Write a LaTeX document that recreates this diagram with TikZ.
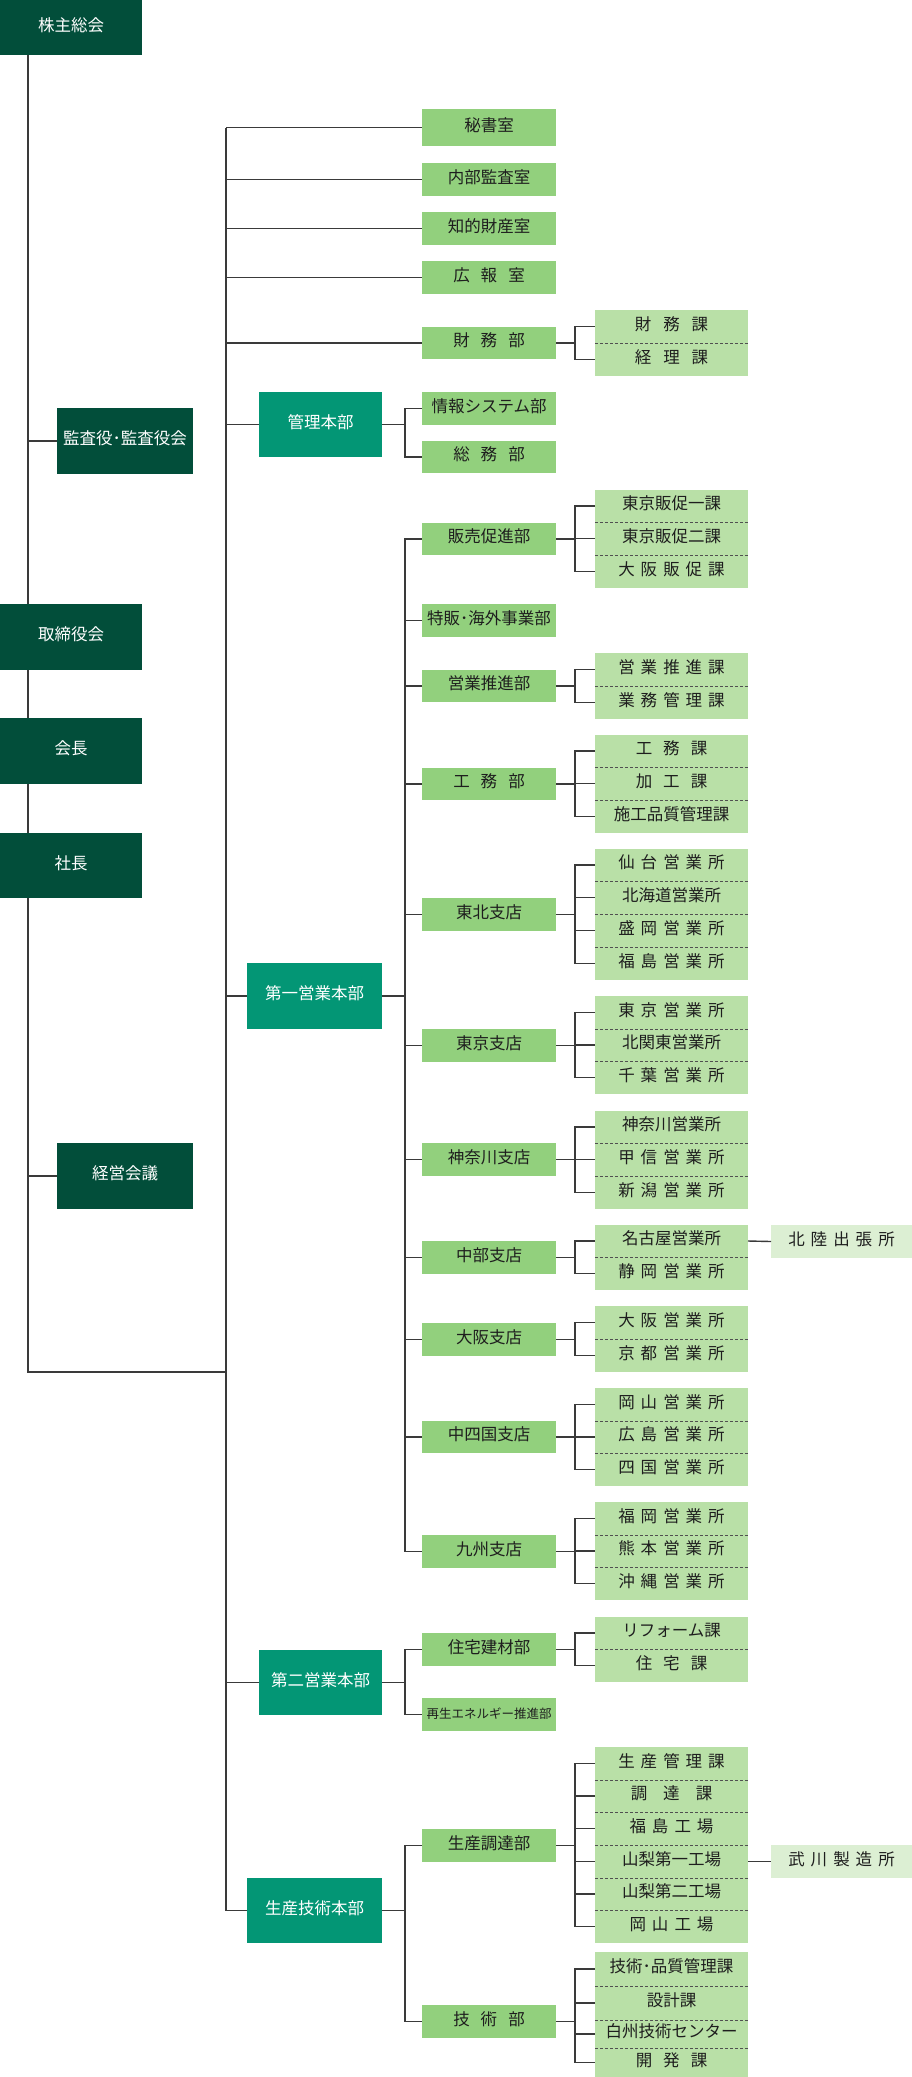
\documentclass[tikz,border=0pt]{standalone}
\usepackage{fontspec}
\setmainfont{Noto Sans CJK JP}
\definecolor{cDark}{RGB}{2,78,58}
\definecolor{cTeal}{RGB}{3,150,117}
\definecolor{cDept}{RGB}{146,208,125}
\definecolor{cSub}{RGB}{185,224,167}
\definecolor{cFar}{RGB}{220,239,211}
\definecolor{cLine}{RGB}{58,58,58}
\definecolor{cDash}{RGB}{80,80,80}
\definecolor{cText}{RGB}{30,30,30}
\newcommand\jgp[1]{\hspace*{#1pt}}
\newcommand\thr[3]{#1\jgp{11}#2\jgp{11}#3}
\newcommand\fou[4]{#1\jgp{6}#2\jgp{6}#3\jgp{6}#4}
\newcommand\fiv[5]{#1\jgp{6}#2\jgp{6}#3\jgp{6}#4\jgp{6}#5}
\newcommand\bx[7]{\node[#1,minimum width={(#5-#3)*1pt},minimum height={(#6-#4)*1pt}] (#2) at ({(#3+#5)/2},{(#4+#6)/2}) {#7};}
\tikzset{
 base/.style={inner sep=0pt, outer sep=0pt, text height=0.82em, text depth=0.08em, font=\fontsize{16.5}{18}\selectfont},
 dk/.style={base, fill=cDark, text=white},
 tl/.style={base, fill=cTeal, text=white},
 dp/.style={base, fill=cDept, text=cText},
 sb/.style={base, fill=cSub, text=cText},
 fr/.style={base, fill=cFar, text=cText},
 ln/.style={draw=cLine, line width=1.4pt},
 dv/.style={draw=cDash, line width=0.9pt, dash pattern=on 3pt off 2pt},
}
\begin{document}
\begin{tikzpicture}[x=1pt,y=-1pt]
\fill[white] (0,0) rectangle (912,2077);
\useasboundingbox (0,0) rectangle (912,2077);
\coordinate (xl) at (28,0);
\coordinate (xm) at (226,0);
\coordinate (xd) at (405,0);
\coordinate (xs) at (575,0);
\coordinate (bend) at (28,1372);
% left column
\bx{dk}{kabu}{0}{0}{142}{55}{株主総会}
\bx{dk}{kansa}{57}{408}{193}{474}{監査役･監査役会}
\bx{dk}{tori}{0}{604}{142}{670}{取締役会}
\bx{dk}{kaicho}{0}{718}{142}{784}{会長}
\bx{dk}{shacho}{0}{833}{142}{898}{社長}
\bx{dk}{keiei}{57}{1143}{193}{1209}{経営会議}
% headquarters
\bx{tl}{kanri}{259}{392}{382}{457}{管理本部}
\bx{tl}{dai1}{247}{963}{382}{1029}{第一営業本部}
\bx{tl}{dai2}{259}{1650}{382}{1715}{第二営業本部}
\bx{tl}{seigi}{247}{1878}{382}{1943}{生産技術本部}
% departments
\bx{dp}{hisho}{422}{109}{556}{146}{秘書室}
\bx{dp}{naibu}{422}{163}{556}{196}{内部監査室}
\bx{dp}{chiteki}{422}{212}{556}{245}{知的財産室}
\bx{dp}{koho}{422}{261}{556}{294}{\thr{広}{報}{室}}
\bx{dp}{zaimu}{422}{327}{556}{359}{\thr{財}{務}{部}}
\bx{dp}{joho}{422}{392}{556}{425}{情報システム部}
\bx{dp}{somu}{422}{441}{556}{473}{\thr{総}{務}{部}}
\bx{dp}{hanbai}{422}{523}{556}{555}{販売促進部}
\bx{dp}{tokuhan}{422}{604}{556}{637}{特販･海外事業部}
\bx{dp}{eigyo}{422}{670}{556}{702}{営業推進部}
\bx{dp}{komu}{422}{768}{556}{800}{\thr{工}{務}{部}}
\bx{dp}{tohoku}{422}{898}{556}{931}{東北支店}
\bx{dp}{tokyo}{422}{1029}{556}{1062}{東京支店}
\bx{dp}{kanagawa}{422}{1143}{556}{1176}{神奈川支店}
\bx{dp}{chubu}{422}{1241}{556}{1274}{中部支店}
\bx{dp}{osaka}{422}{1323}{556}{1356}{大阪支店}
\bx{dp}{chushi}{422}{1421}{556}{1453}{中四国支店}
\bx{dp}{kyushu}{422}{1535}{556}{1568}{九州支店}
\bx{dp}{jutaku}{422}{1633}{556}{1666}{住宅建材部}
\bx{dp,font=\fontsize{12.5}{14}\selectfont}{saisei}{422}{1698}{556}{1731}{再生エネルギー推進部}
\bx{dp}{seicho}{422}{1829}{556}{1862}{生産調達部}
\bx{dp}{gijutsu}{422}{2005}{556}{2038}{\thr{技}{術}{部}}
% sections
\bx{sb}{zr1}{595}{310}{748}{343}{財\jgp{12}務\jgp{12}課}
\bx{sb}{zr2}{595}{343}{748}{376}{経\jgp{12}理\jgp{12}課}
\bx{sb}{hr1}{595}{490}{748}{522}{東京販促一課}
\bx{sb}{hr2}{595}{522}{748}{555}{東京販促二課}
\bx{sb}{hr3}{595}{555}{748}{588}{\fiv{大}{阪}{販}{促}{課}}
\bx{sb}{er1}{595}{653}{748}{686}{\fiv{営}{業}{推}{進}{課}}
\bx{sb}{er2}{595}{686}{748}{719}{\fiv{業}{務}{管}{理}{課}}
\bx{sb}{kr1}{595}{735}{748}{767}{\thr{工}{務}{課}}
\bx{sb}{kr2}{595}{767}{748}{800}{\thr{加}{工}{課}}
\bx{sb}{kr3}{595}{800}{748}{833}{施工品質管理課}
\bx{sb}{tr1}{595}{849}{748}{881}{\fiv{仙}{台}{営}{業}{所}}
\bx{sb}{tr2}{595}{881}{748}{914}{北海道営業所}
\bx{sb}{tr3}{595}{914}{748}{947}{\fiv{盛}{岡}{営}{業}{所}}
\bx{sb}{tr4}{595}{947}{748}{980}{\fiv{福}{島}{営}{業}{所}}
\bx{sb}{ts1}{595}{996}{748}{1029}{\fiv{東}{京}{営}{業}{所}}
\bx{sb}{ts2}{595}{1029}{748}{1061}{北関東営業所}
\bx{sb}{ts3}{595}{1061}{748}{1094}{\fiv{千}{葉}{営}{業}{所}}
\bx{sb}{kg1}{595}{1111}{748}{1143}{神奈川営業所}
\bx{sb}{kg2}{595}{1143}{748}{1176}{\fiv{甲}{信}{営}{業}{所}}
\bx{sb}{kg3}{595}{1176}{748}{1209}{\fiv{新}{潟}{営}{業}{所}}
\bx{sb}{cb1}{595}{1225}{748}{1257}{名古屋営業所}
\bx{sb}{cb2}{595}{1257}{748}{1290}{\fiv{静}{岡}{営}{業}{所}}
\bx{sb}{os1}{595}{1306}{748}{1339}{\fiv{大}{阪}{営}{業}{所}}
\bx{sb}{os2}{595}{1339}{748}{1372}{\fiv{京}{都}{営}{業}{所}}
\bx{sb}{cs1}{595}{1388}{748}{1421}{\fiv{岡}{山}{営}{業}{所}}
\bx{sb}{cs2}{595}{1421}{748}{1453}{\fiv{広}{島}{営}{業}{所}}
\bx{sb}{cs3}{595}{1453}{748}{1486}{\fiv{四}{国}{営}{業}{所}}
\bx{sb}{ks1}{595}{1502}{748}{1535}{\fiv{福}{岡}{営}{業}{所}}
\bx{sb}{ks2}{595}{1535}{748}{1567}{\fiv{熊}{本}{営}{業}{所}}
\bx{sb}{ks3}{595}{1567}{748}{1600}{\fiv{沖}{縄}{営}{業}{所}}
\bx{sb}{jr1}{595}{1617}{748}{1649}{リフォーム課}
\bx{sb}{jr2}{595}{1649}{748}{1682}{\thr{住}{宅}{課}}
\bx{sb}{sc1}{595}{1747}{748}{1780}{\fiv{生}{産}{管}{理}{課}}
\bx{sb}{sc2}{595}{1780}{748}{1812}{調\jgp{16}達\jgp{16}課}
\bx{sb}{sc3}{595}{1812}{748}{1845}{\fou{福}{島}{工}{場}}
\bx{sb}{sc4}{595}{1845}{748}{1878}{山梨第一工場}
\bx{sb}{sc5}{595}{1878}{748}{1910}{山梨第二工場}
\bx{sb}{sc6}{595}{1910}{748}{1943}{\fou{岡}{山}{工}{場}}
\bx{sb}{gj1}{595}{1952}{748}{1986}{技術･品質管理課}
\bx{sb}{gj2}{595}{1986}{748}{2020}{設計課}
\bx{sb}{gj3}{595}{2020}{748}{2048}{白州技術センター}
\bx{sb}{gj4}{595}{2048}{748}{2077}{\thr{開}{発}{課}}
% far offices
\bx{fr}{hokuriku}{771}{1225}{912}{1258}{\fiv{北}{陸}{出}{張}{所}}
\bx{fr}{takekawa}{771}{1845}{912}{1878}{\fiv{武}{川}{製}{造}{所}}
% left spine
\draw[ln] (kabu.south -| xl) -- (tori.north -| xl);
\draw[ln] (tori.south -| xl) -- (kaicho.north -| xl);
\draw[ln] (kaicho.south -| xl) -- (shacho.north -| xl);
\draw[ln] (shacho.south -| xl) -- (bend) -- (bend -| xm);
\draw[ln] (kansa.west -| xl) -- (kansa.west);
\draw[ln] (keiei.west -| xl) -- (keiei.west);
% middle spine
\draw[ln] (hisho.west -| xm) -- (seigi.west -| xm);
\foreach \n in {hisho,naibu,chiteki,koho,zaimu,kanri,dai1,dai2,seigi}
  \draw[ln] (\n.west -| xm) -- (\n.west);
% HQ brackets
\foreach \n in {kanri,dai1,dai2,seigi}
  \draw[ln] (\n.east) -- (\n.east -| xd);
\draw[ln] (joho.west) -- (joho.west -| xd) -- (somu.west -| xd) -- (somu.west);
\draw[ln] (hanbai.west) -- (hanbai.west -| xd) -- (kyushu.west -| xd) -- (kyushu.west);
\foreach \n in {tokuhan,eigyo,komu,tohoku,tokyo,kanagawa,chubu,osaka,chushi}
  \draw[ln] (\n.west -| xd) -- (\n.west);
\draw[ln] (jutaku.west) -- (jutaku.west -| xd) -- (saisei.west -| xd) -- (saisei.west);
\draw[ln] (seicho.west) -- (seicho.west -| xd) -- (gijutsu.west -| xd) -- (gijutsu.west);
% section brackets
\foreach \d/\a/\b/\mids in {zaimu/zr1/zr2/{},hanbai/hr1/hr3/{hr2},eigyo/er1/er2/{},komu/kr1/kr3/{kr2},
  tohoku/tr1/tr4/{tr2,tr3},tokyo/ts1/ts3/{ts2},kanagawa/kg1/kg3/{kg2},chubu/cb1/cb2/{},osaka/os1/os2/{},
  chushi/cs1/cs3/{cs2},kyushu/ks1/ks3/{ks2},jutaku/jr1/jr2/{},seicho/sc1/sc6/{sc2,sc3,sc4,sc5},gijutsu/gj1/gj4/{gj2,gj3}}{
  \draw[ln] (\d.east) -- (\d.east -| xs);
  \draw[ln] (\a.west) -- (\a.west -| xs) -- (\b.west -| xs) -- (\b.west);
  \foreach \m in \mids { \draw[ln] (\m.west) -- (\m.west -| xs); }
}
% dividers
\foreach \r in {zr1,hr1,hr2,er1,kr1,kr2,tr1,tr2,tr3,ts1,ts2,kg1,kg2,cb1,os1,cs1,cs2,ks1,ks2,jr1,sc1,sc2,sc3,sc4,sc5,gj1,gj2,gj3}
  \draw[dv] (\r.south west) -- (\r.south east);
% far connectors
\draw[ln] (cb1.east) -- (hokuriku.west);
\draw[ln] (sc4.east) -- (takekawa.west);
\end{tikzpicture}
\end{document}
